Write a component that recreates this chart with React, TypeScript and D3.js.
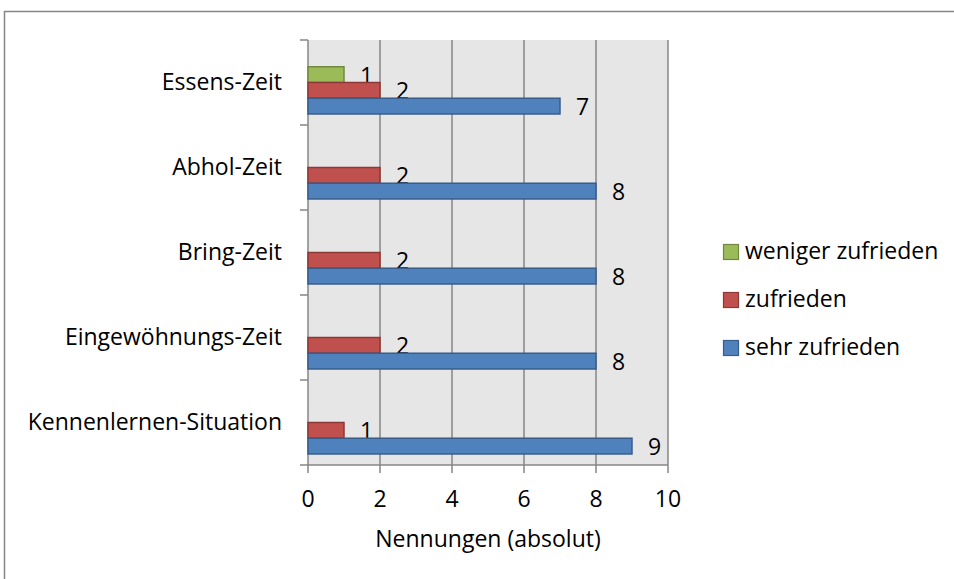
import * as d3 from "d3";

const categories = [
  "Essens-Zeit",
  "Abhol-Zeit",
  "Bring-Zeit",
  "Eingewöhnungs-Zeit",
  "Kennenlernen-Situation",
];
const series = ["weniger zufrieden", "zufrieden", "sehr zufrieden"];
const wenigerZufrieden = [1, null, null, null, null];
const zufrieden = [2, 2, 2, 2, 1];
const sehrZufrieden = [7, 8, 8, 8, 9];
const xTicks = [0, 2, 4, 6, 8, 10];

const fills = ["#9bbb59", "#c0504d", "#4f81bd"];
const strokes = ["#71893f", "#8c3836", "#385d8a"];
const values = [wenigerZufrieden, zufrieden, sehrZufrieden];

const W = 954;
const H = 579;
const font = "'Open Sans', sans-serif";
const fs = 23;
const grey = "#868686";

export default function App() {
  const plot = { left: 308, right: 668, top: 40, bottom: 465 };
  const x = d3.scaleLinear().domain([0, 10]).range([plot.left, plot.right]);
  const y = d3.scaleBand().domain(categories).range([plot.top, plot.bottom]);
  // four slots per category, the first one stays empty
  const slot = d3
    .scaleBand()
    .domain(["", ...series])
    .range([0, y.bandwidth()])
    .paddingOuter(0.7);

  const boundaries = d3.range(categories.length + 1).map((i) => plot.top + i * y.bandwidth());

  return (
    <svg
      width={W}
      height={H}
      style={{ position: "absolute", left: 0, top: 0, fontFamily: font }}
    >
      <rect x={0} y={0} width={W} height={H} fill="#fff" />
      <rect x={4.5} y={11.5} width={W + 10} height={H + 10} fill="none" stroke={grey} strokeWidth={1.5} />

      <rect
        x={plot.left}
        y={plot.top}
        width={plot.right - plot.left}
        height={plot.bottom - plot.top}
        fill="#e6e6e6"
      />
      {xTicks.slice(1).map((t) => (
        <line key={t} x1={x(t)} x2={x(t)} y1={plot.top} y2={plot.bottom} stroke={grey} strokeWidth={1.5} />
      ))}

      {/* axes */}
      <line x1={plot.left} x2={plot.left} y1={plot.top} y2={plot.bottom} stroke={grey} strokeWidth={1.5} />
      {boundaries.map((b) => (
        <line key={b} x1={plot.left - 8} x2={plot.left} y1={b} y2={b} stroke={grey} strokeWidth={1.5} />
      ))}
      <line x1={plot.left} x2={plot.right} y1={plot.bottom} y2={plot.bottom} stroke={grey} strokeWidth={1.5} />
      {xTicks.map((t) => (
        <line key={t} x1={x(t)} x2={x(t)} y1={plot.bottom} y2={plot.bottom + 8} stroke={grey} strokeWidth={1.5} />
      ))}

      {/* bars */}
      {series.map((s, si) =>
        categories.map((c, ci) => {
          const v = values[si][ci];
          if (v == null) return null;
          const by = (y(c) as number) + (slot(s) as number);
          const bh = slot.bandwidth();
          return (
            <g key={s + c}>
              <rect
                x={x(0)}
                y={by}
                width={x(v) - x(0)}
                height={bh}
                fill={fills[si]}
                stroke={strokes[si]}
                strokeWidth={1.5}
              />
              <text x={x(v) + 16} y={by + bh / 2 + 9} fontSize={fs} fill="#000">
                {v}
              </text>
            </g>
          );
        })
      )}

      {/* category labels */}
      {categories.map((c) => (
        <text
          key={c}
          x={plot.left - 26}
          y={(y(c) as number) + y.bandwidth() / 2 + 7}
          textAnchor="end"
          fontSize={fs}
          fill="#000"
        >
          {c}
        </text>
      ))}

      {/* x tick labels */}
      {xTicks.map((t) => (
        <text key={t} x={x(t)} y={507} textAnchor="middle" fontSize={fs} fill="#000">
          {t}
        </text>
      ))}
      <text x={(plot.left + plot.right) / 2} y={547} textAnchor="middle" fontSize={fs} fill="#000">
        Nennungen (absolut)
      </text>

      {/* legend */}
      {series.map((s, i) => (
        <g key={s} transform={`translate(723, ${251.5 + i * 48})`}>
          <rect x={0.5} y={-7} width={15} height={15} fill={fills[i]} stroke={strokes[i]} strokeWidth={1.2} />
          <text x={22} y={7.5} fontSize={fs} fill="#000">
            {s}
          </text>
        </g>
      ))}
    </svg>
  );
}
